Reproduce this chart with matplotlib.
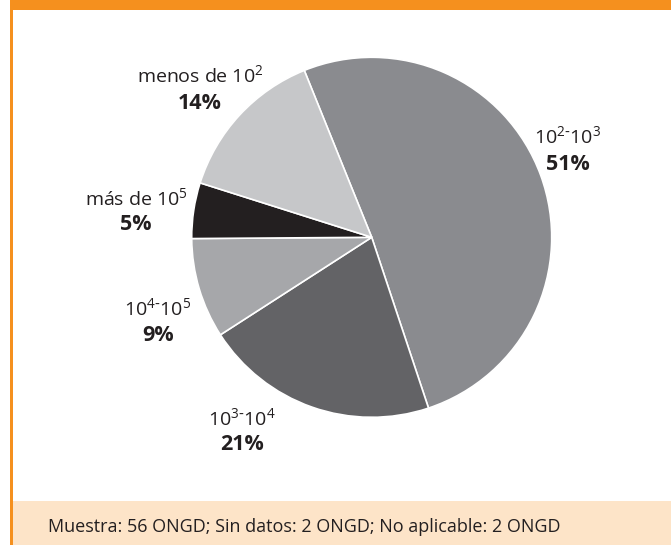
import matplotlib.pyplot as plt
from matplotlib.patches import Rectangle

plt.rcParams['font.family'] = ['Open Sans', 'DejaVu Sans']
plt.rcParams['mathtext.default'] = 'regular'

# share of organisations by size band
labels = [r'10$^{2\text{-}}$10$^{3}$', r'10$^{3\text{-}}$10$^{4}$',
          r'10$^{4\text{-}}$10$^{5}$', r'más de 10$^{5}$', r'menos de 10$^{2}$']
values = [51, 21, 9, 5, 14]
colors = ['#8a8b8f', '#636366', '#a6a7aa', '#231f20', '#c6c7c9']
footer = 'Muestra: 56 ONGD; Sin datos: 2 ONGD; No aplicable: 2 ONGD'

W, H = 671, 545
fig = plt.figure(figsize=(W / 100, H / 100), dpi=100)
fig.patch.set_facecolor('white')

orange = '#f5901e'
ink = '#231f20'

# frame: orange band on top, thin orange rule on the left, beige footer
bg = fig.add_axes([0, 0, 1, 1])
bg.set_xlim(0, W)
bg.set_ylim(H, 0)
bg.axis('off')
bg.add_patch(Rectangle((10, 0), W - 10, 10, facecolor=orange, edgecolor='none'))
bg.add_patch(Rectangle((10, 10), 2.5, H - 10, facecolor=orange, edgecolor='none'))
bg.add_patch(Rectangle((12.5, 501), W - 12.5, H - 501, facecolor='#fde4c8', edgecolor='none'))
bg.text(48, 527, footer, fontsize=13, color=ink, va='center', ha='left')

# pie, centre (372, 237) px, radius 180 px
cx, cy, r = 371.7, 237.3, 180
ax = fig.add_axes([(cx - r) / W, (H - cy - r) / H, 2 * r / W, 2 * r / H])
ax.pie(values, colors=colors, startangle=112, counterclock=False,
       wedgeprops=dict(edgecolor='white', linewidth=1.2))
ax.set_xlim(-1, 1)
ax.set_ylim(-1, 1)
ax.set_aspect('equal')

# label anchors in pixels: (x, baseline of name, baseline of percent)
anchors = [(568, 143, 170), (242, 425, 450), (158, 315, 341),
           (136, 205, 230), (200, 82, 109)]
for lab, val, (px, y1, y2) in zip(labels, values, anchors):
    ax.text((px - cx) / r, (cy - y1) / r, lab, fontsize=14, color=ink,
            ha='center', va='baseline')
    ax.text((px - cx) / r, (cy - y2) / r, f'{val}%', fontsize=15.5,
            fontweight='bold', color=ink, ha='center', va='baseline')

fig.savefig('out.png', dpi=100)
